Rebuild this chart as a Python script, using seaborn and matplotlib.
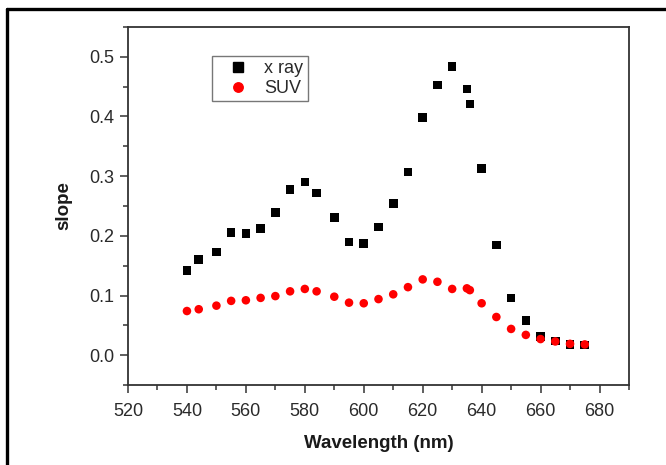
import numpy as np
import pandas as pd
import matplotlib
matplotlib.use("Agg")
import matplotlib.pyplot as plt
from matplotlib.lines import Line2D
from matplotlib.ticker import MultipleLocator
import seaborn as sns

# ── Data ─────────────────────────────────────────────────────────────────────
wavelength = [540, 544, 550, 555, 560, 565, 570, 575, 580, 584, 590, 595, 600,
              605, 610, 615, 620, 625, 630, 635, 636, 640, 645, 650, 655, 660,
              665, 670, 675]
xray_slope = [0.142, 0.160, 0.173, 0.206, 0.204, 0.212, 0.239, 0.278, 0.290,
              0.272, 0.231, 0.190, 0.187, 0.215, 0.254, 0.307, 0.398, 0.453,
              0.484, 0.446, 0.421, 0.313, 0.185, 0.096, 0.058, 0.031, 0.024,
              0.018, 0.017]
suv_slope = [0.074, 0.077, 0.083, 0.091, 0.092, 0.096, 0.099, 0.107, 0.111,
             0.107, 0.098, 0.088, 0.087, 0.094, 0.102, 0.114, 0.127, 0.123,
             0.111, 0.112, 0.109, 0.087, 0.064, 0.044, 0.034, 0.027, 0.023,
             0.019, 0.018]
series_names = ["x ray", "SUV"]

df = pd.DataFrame({
    "wavelength": wavelength * 2,
    "slope": xray_slope + suv_slope,
    "series": [series_names[0]] * len(wavelength) + [series_names[1]] * len(wavelength),
})

sns.set_style("ticks")
plt.rcParams["font.family"] = ["Liberation Sans", "DejaVu Sans"]

fig = plt.figure(figsize=(6.66, 4.65), dpi=100)
ax = fig.add_axes([0.1922, 0.172, 0.7522, 0.770])

sns.scatterplot(data=df, x="wavelength", y="slope", hue="series", style="series",
                palette={"x ray": "black", "SUV": "red"},
                markers={"x ray": "s", "SUV": "o"},
                s=38, linewidth=0, ax=ax, legend=False)

ax.set_xlim(520, 690)
ax.set_ylim(-0.05, 0.55)
ax.xaxis.set_major_locator(MultipleLocator(20))
ax.xaxis.set_minor_locator(MultipleLocator(10))
ax.yaxis.set_major_locator(MultipleLocator(0.1))
ax.yaxis.set_minor_locator(MultipleLocator(0.05))
ax.yaxis.set_major_formatter(matplotlib.ticker.FormatStrFormatter("%.1f"))

for side in ["top", "right", "bottom", "left"]:
    ax.spines[side].set_visible(True)
    ax.spines[side].set_color("#333333")
    ax.spines[side].set_linewidth(1.3)
ax.tick_params(which="major", direction="out", length=6, width=1.1,
               color="#333333", labelsize=13, labelcolor="#2a2a2a", pad=4)
ax.tick_params(axis="x", which="major", pad=7)
ax.tick_params(which="minor", direction="out", length=3.5, width=1.1,
               color="#333333")

ax.set_xlabel("Wavelength (nm)", fontsize=13.5, fontweight="bold", labelpad=11,
              color="#1a1a1a")
ax.set_ylabel("slope", fontsize=13.5, fontweight="bold", labelpad=12,
              color="#1a1a1a")

# Legend
handles = [
    Line2D([], [], marker="s", color="black", linestyle="none", markersize=6.8),
    Line2D([], [], marker="o", color="red", linestyle="none", markersize=6.8),
]
leg = ax.legend(handles, series_names, loc="upper left",
                bbox_to_anchor=(211.7 / 666, 1 - 55.7 / 465),
                bbox_transform=fig.transFigure, borderaxespad=0,
                fontsize=13, frameon=True, fancybox=False, handlelength=2.4,
                handletextpad=0.25, borderpad=0.25, labelspacing=0.15)
leg.get_frame().set_edgecolor("#555555")
leg.get_frame().set_linewidth(1.0)
for t in leg.get_texts():
    t.set_color("#2a2a2a")

# Outer frame of the original figure (cropped on right and bottom)
fig.add_artist(Line2D([7 / 666, 7 / 666], [0, 1 - 9 / 465], color="black",
                      linewidth=2.4, transform=fig.transFigure))
fig.add_artist(Line2D([7 / 666, 1], [1 - 9 / 465, 1 - 9 / 465], color="black",
                      linewidth=2.4, transform=fig.transFigure))

fig.savefig("out.png", dpi=100, facecolor="white")
